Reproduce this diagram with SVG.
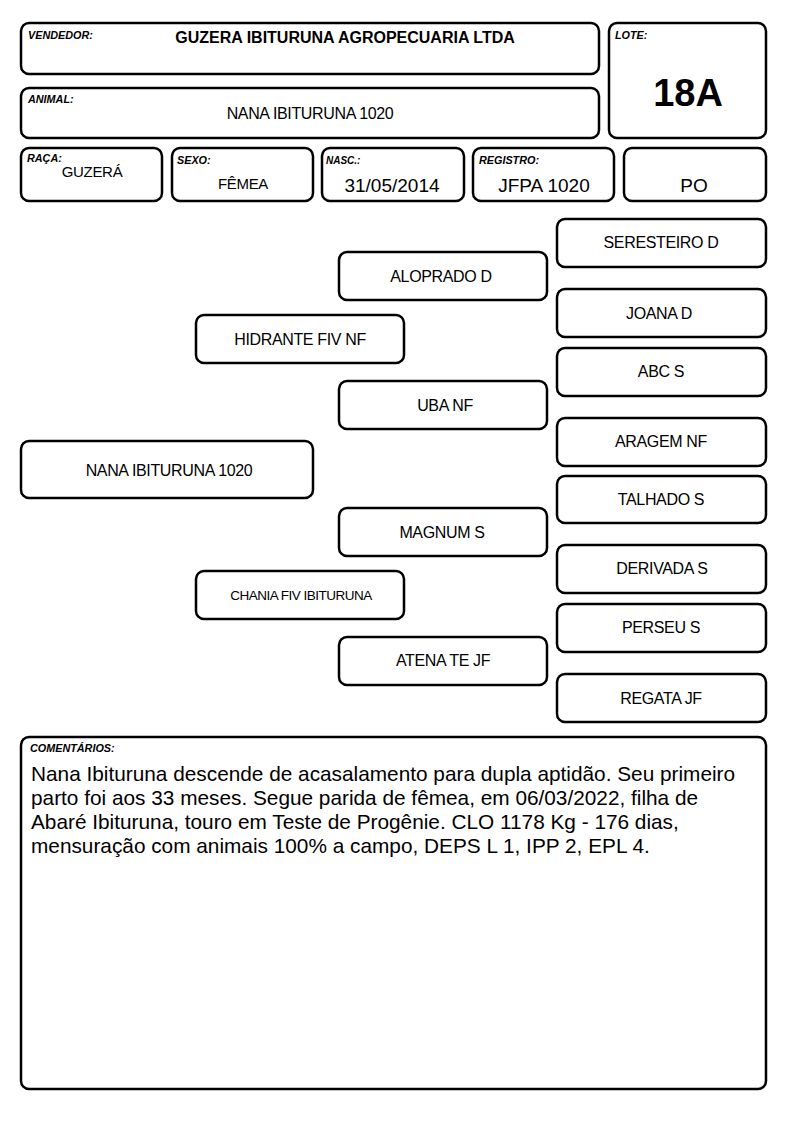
<svg xmlns="http://www.w3.org/2000/svg" width="794" height="1123" viewBox="0 0 794 1123">
<style>
.b{fill:#fff;stroke:#000;stroke-width:2.5}
.l{font-family:"Liberation Sans",Arial,sans-serif;font-size:10.8px;font-weight:bold;font-style:italic;fill:#000}
.t{font-family:"Liberation Sans",Arial,sans-serif;font-size:16px;fill:#000;text-anchor:middle;letter-spacing:-0.35px}
.s{font-family:"Liberation Sans",Arial,sans-serif;font-size:15px;fill:#000;text-anchor:middle;letter-spacing:-0.3px}
.v{font-family:"Liberation Sans",Arial,sans-serif;font-size:19px;fill:#000;text-anchor:middle}
.c{font-family:"Liberation Sans",Arial,sans-serif;font-size:20.8px;fill:#000}
</style>
<rect width="794" height="1123" fill="#fff"/>
<g id="vendedor"><rect class="b" x="21" y="23" width="578" height="51" rx="8"/><text class="l" x="28" y="39">VENDEDOR:</text><text class="t" x="345" y="43" style="font-weight:bold;letter-spacing:0">GUZERA IBITURUNA AGROPECUARIA LTDA</text></g>
<g id="animal"><rect class="b" x="21" y="88" width="578" height="50" rx="8"/><text class="l" x="28" y="103">ANIMAL:</text><text class="t" x="310" y="119">NANA IBITURUNA 1020</text></g>
<g id="lote"><rect class="b" x="609" y="23" width="157" height="115" rx="8"/><text class="l" x="615" y="39">LOTE:</text><text x="688" y="106" style="font-family:'Liberation Sans',Arial,sans-serif;font-size:38px;font-weight:bold;text-anchor:middle">18A</text></g>
<g id="raca"><rect class="b" x="21" y="148" width="141" height="53" rx="8"/><text class="l" x="27" y="162">RAÇA:</text><text class="s" x="92" y="177">GUZERÁ</text></g>
<g id="sexo"><rect class="b" x="172" y="148" width="141" height="53" rx="8"/><text class="l" x="177" y="164">SEXO:</text><text class="s" x="243" y="189">FÊMEA</text></g>
<g id="nasc"><rect class="b" x="322" y="148" width="142" height="53" rx="8"/><text class="l" x="326" y="164" style="font-size:10px">NASC.:</text><text class="v" x="392" y="192">31/05/2014</text></g>
<g id="registro"><rect class="b" x="473" y="148" width="141" height="53" rx="8"/><text class="l" x="479" y="164">REGISTRO:</text><text class="v" x="544" y="192">JFPA 1020</text></g>
<g id="po"><rect class="b" x="624" y="148" width="142" height="53" rx="8"/><text class="v" x="694" y="192">PO</text></g>
<g id="connectors"></g>
<g id="n-seresteiro"><rect class="b" x="557" y="219" width="209" height="48" rx="8"/><text class="t" x="661" y="248">SERESTEIRO D</text></g>
<g id="n-aloprado"><rect class="b" x="339" y="252" width="208" height="48" rx="8"/><text class="t" x="441" y="282">ALOPRADO D</text></g>
<g id="n-joana"><rect class="b" x="557" y="289" width="209" height="48" rx="8"/><text class="t" x="659" y="319">JOANA D</text></g>
<g id="n-hidrante"><rect class="b" x="196" y="315" width="208" height="48" rx="8"/><text class="t" x="300" y="345">HIDRANTE FIV NF</text></g>
<g id="n-abc"><rect class="b" x="557" y="348" width="209" height="48" rx="8"/><text class="t" x="661" y="377">ABC S</text></g>
<g id="n-uba"><rect class="b" x="339" y="381" width="208" height="48" rx="8"/><text class="t" x="445" y="411">UBA NF</text></g>
<g id="n-aragem"><rect class="b" x="557" y="418" width="209" height="48" rx="8"/><text class="t" x="661" y="447">ARAGEM NF</text></g>
<g id="n-nana"><rect class="b" x="21" y="441" width="292" height="57" rx="8"/><text class="t" x="169" y="476">NANA IBITURUNA 1020</text></g>
<g id="n-talhado"><rect class="b" x="557" y="476" width="209" height="47" rx="8"/><text class="t" x="661" y="505">TALHADO S</text></g>
<g id="n-magnum"><rect class="b" x="339" y="508" width="208" height="48" rx="8"/><text class="t" x="442" y="538">MAGNUM S</text></g>
<g id="n-derivada"><rect class="b" x="557" y="545" width="209" height="48" rx="8"/><text class="t" x="662" y="574">DERIVADA S</text></g>
<g id="n-chania"><rect class="b" x="196" y="571" width="208" height="48" rx="8"/><text class="t" x="301" y="600" style="font-size:13.5px;letter-spacing:-0.5px">CHANIA FIV IBITURUNA</text></g>
<g id="n-perseu"><rect class="b" x="557" y="604" width="209" height="48" rx="8"/><text class="t" x="661" y="633">PERSEU S</text></g>
<g id="n-atena"><rect class="b" x="339" y="637" width="208" height="48" rx="8"/><text class="t" x="443" y="666">ATENA TE JF</text></g>
<g id="n-regata"><rect class="b" x="557" y="674" width="209" height="48" rx="8"/><text class="t" x="661" y="704">REGATA JF</text></g>
<g id="comentarios"><rect class="b" x="21" y="737" width="745" height="352" rx="8"/><text class="l" x="30" y="752">COMENTÁRIOS:</text>
<text class="c" x="31" y="781">Nana Ibituruna descende de acasalamento para dupla aptidão. Seu primeiro</text>
<text class="c" x="31" y="805">parto foi aos 33 meses. Segue parida de fêmea, em 06/03/2022, filha de</text>
<text class="c" x="31" y="829">Abaré Ibituruna, touro em Teste de Progênie. CLO 1178 Kg - 176 dias,</text>
<text class="c" x="31" y="853">mensuração com animais 100% a campo, DEPS L 1, IPP 2, EPL 4.</text>
</g>
</svg>
